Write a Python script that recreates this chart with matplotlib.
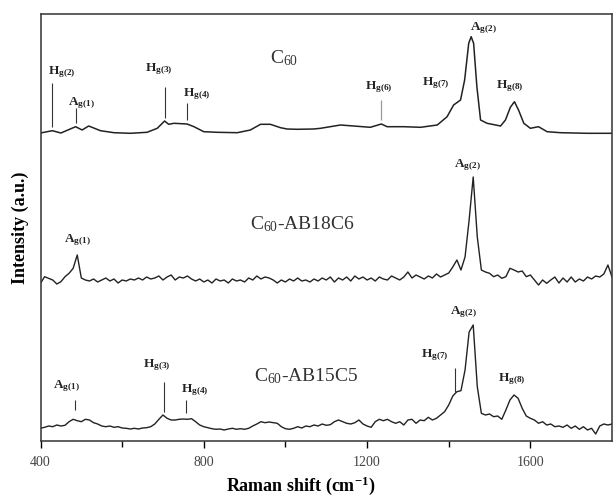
import matplotlib
matplotlib.use('Agg')
import matplotlib.pyplot as plt
import numpy as np

plt.rcParams['font.family'] = 'Liberation Serif'
plt.rcParams['mathtext.fontset'] = 'custom'
plt.rcParams['mathtext.rm'] = 'Liberation Serif'
plt.rcParams['mathtext.it'] = 'Liberation Serif:italic'
plt.rcParams['mathtext.bf'] = 'Liberation Serif:bold'

# --- data (intensity in a.u.) ---
# C60: smooth spectrum, read at irregular points
c60_shift = [400, 429, 450, 486, 502, 518, 547, 580, 620, 661,
             686, 704, 714, 727, 759, 776, 800, 833, 882, 914,
             939, 963, 988, 1004, 1029, 1069, 1086, 1135, 1167, 1208,
             1235, 1249, 1290, 1331, 1372, 1396, 1412, 1429, 1439, 1449,
             1455, 1461, 1469, 1478, 1494, 1527, 1539, 1551, 1561, 1571,
             1584, 1600, 1620, 1641, 1674, 1739, 1800]
c60_int = [8, 10.3, 8, 14.3, 11, 15, 10.3, 8.3, 7.7, 8.7,
           12.7, 20, 16.7, 17.7, 17, 14.3, 9.3, 8.7, 8.3, 11,
           16.7, 16.7, 13.3, 12, 11.7, 12, 12.7, 16, 15, 13.7,
           17, 14.3, 14.3, 13.7, 16, 24.3, 36, 41, 61, 97.7,
           104.3, 97.7, 54.3, 21, 17.7, 15, 21, 33.7, 39.3, 31,
           17.7, 12.7, 14.3, 9.3, 8.3, 7.7, 7.7]

# noisy spectra, read every 10 cm-1 from 400 to 1800
shift = np.arange(400, 1801, 10)
ab18c6_int = [2.7, 9.3, 7.7, 6, 2, 4.3, 9.3, 12.7, 17.7, 31,
              8, 6, 5, 7, 4, 6, 8, 5, 7, 3,
              6, 5, 7, 6, 8, 6, 9, 7, 8, 10,
              6, 9, 11, 6, 9, 8, 10, 7, 5, 7,
              4, 6, 3, 7, 5, 6, 3, 7, 5, 6,
              4, 8, 6, 10, 7, 9, 8, 6, 3, 6,
              4, 7, 5, 8, 5, 6, 4, 7, 5, 8,
              6, 9, 4, 8, 6, 9, 5, 10, 7, 9,
              6, 8, 5, 9, 7, 6, 10, 8, 6, 9,
              14, 8, 11, 9, 7, 10, 8, 12, 9, 11,
              13, 19, 26, 16, 29, 66, 109, 49, 16, 14,
              12.7, 9.3, 11, 7.7, 9.3, 17.7, 16, 14, 15, 9.3,
              11, 6, 1, 6, 2.7, 6, 9, 3, 8, 4,
              9, 4, 7, 5, 9, 7, 10, 9, 12, 21,
              9]
ab15c5_int = [12.7, 13.7, 15, 14.3, 16, 15, 15.7, 19.3, 21.7, 20.3,
              19.3, 21.7, 21, 18.3, 17, 15, 14.3, 15, 13.7, 14.3,
              13, 12.7, 12, 12.7, 12, 13, 13.3, 14.3, 17, 21.7,
              26, 22.7, 21, 21, 21.7, 22, 21.7, 22.3, 19.3, 16,
              14.3, 13.3, 12.3, 11.7, 12, 11, 12, 12.7, 11.7, 12.3,
              11.7, 12.7, 15, 17, 19.3, 18.3, 19, 18.3, 17.7, 14.3,
              12.3, 11.7, 12.7, 14.3, 13, 15, 14.3, 16, 15, 17,
              15.7, 16.3, 19.3, 21, 19.3, 17.7, 17, 18.3, 21, 17,
              15, 13.7, 19.3, 21.7, 20.3, 21.7, 19.3, 17.7, 19.3, 16,
              21, 21.7, 17.7, 21, 20.3, 23.7, 21, 22.7, 26, 29.3,
              36, 45, 49.3, 50.3, 71, 109, 116, 54.3, 27.7, 26,
              27, 24.3, 25, 21.7, 31, 41, 46, 42.7, 32.7, 25,
              22.7, 21, 17.7, 19.3, 16, 17, 14.3, 15, 13.7, 16,
              12.7, 15, 11.7, 14.3, 11, 12.7, 7, 15, 17, 16,
              17]

# vertical stacking offsets
offsets = [300, 155, 0]

# peak labels: (text, x, y) and marker lines: (x, y0, y1)
peak_labels = [
    (r'$\mathbf{H_{g(2)}}$', 418, 369), (r'$\mathbf{A_{g(1)}}$', 467, 338),
    (r'$\mathbf{H_{g(3)}}$', 655, 372), (r'$\mathbf{H_{g(4)}}$', 748, 347),
    (r'$\mathbf{H_{g(6)}}$', 1194, 354), (r'$\mathbf{H_{g(7)}}$', 1334, 358),
    (r'$\mathbf{A_{g(2)}}$', 1451, 413), (r'$\mathbf{H_{g(8)}}$', 1517, 355),
    (r'$\mathbf{A_{g(2)}}$', 1412, 276), (r'$\mathbf{A_{g(1)}}$', 458, 201),
    (r'$\mathbf{A_{g(2)}}$', 1402, 129), (r'$\mathbf{H_{g(7)}}$', 1331, 86),
    (r'$\mathbf{H_{g(8)}}$', 1520, 62), (r'$\mathbf{H_{g(3)}}$', 650, 76),
    (r'$\mathbf{H_{g(4)}}$', 743, 51), (r'$\mathbf{A_{g(1)}}$', 430, 55),
]
marker_lines = [
    (429, 314, 358), (487, 318, 333), (704, 323, 354), (759, 321, 338),
    (1416, 49, 73), (703, 29, 59), (757, 28, 41), (484, 31, 41),
]
sample_names = [r'C$_{60}$', r'C$_{60}$-AB18C6', r'C$_{60}$-AB15C5']
sample_pos = [(963, 383), (914, 217), (922, 65)]

fig = plt.figure(figsize=(6.14, 4.96), dpi=100)
ax = fig.add_axes([40.5 / 614, 55 / 496, 571.5 / 614, 427 / 496])

line_col = '#222222'
ax.plot(c60_shift, np.array(c60_int) + offsets[0], color=line_col, lw=1.1)
ax.plot(shift, np.array(ab18c6_int) + offsets[1], color=line_col, lw=1.0)
ax.plot(shift, np.array(ab15c5_int) + offsets[2], color=line_col, lw=1.0)

for txt, x, y in peak_labels:
    ax.text(x, y, txt, fontsize=9.5, ha='left', va='center', color='#222222')
for x, y0, y1 in marker_lines:
    ax.vlines(x, y0, y1, color='#333333', lw=0.8)
# Hg(6) marker is fainter
ax.vlines(1235, 321, 341, color='#999999', lw=0.9)

for name, (x, y) in zip(sample_names, sample_pos):
    ax.text(x, y, name, fontsize=14, ha='left', va='center', color='#333333')

ax.set_xlim(400, 1800)
ax.set_ylim(0, 427)
ax.set_yticks([])
ax.set_xticks([400, 800, 1200, 1600])
ax.set_xticks([600, 1000, 1400], minor=True)
ax.tick_params(axis='x', which='major', direction='out', length=5, width=1,
               pad=6, labelsize=10, labelcolor='#444444')
ax.tick_params(axis='x', which='minor', direction='out', length=4, width=1)
for sp in ax.spines.values():
    sp.set_linewidth(1.1)
    sp.set_color('#333333')

ax.set_xlabel(r'Raman shift (cm$^{\mathbf{-1}}$)', fontsize=13, fontweight='bold')
ax.xaxis.set_label_coords(0.456, -0.078)
ax.set_ylabel('Intensity (a.u.)', fontsize=13, fontweight='bold')
ax.yaxis.set_label_coords(-0.02, 0.5)

fig.savefig('out.png', dpi=100)
